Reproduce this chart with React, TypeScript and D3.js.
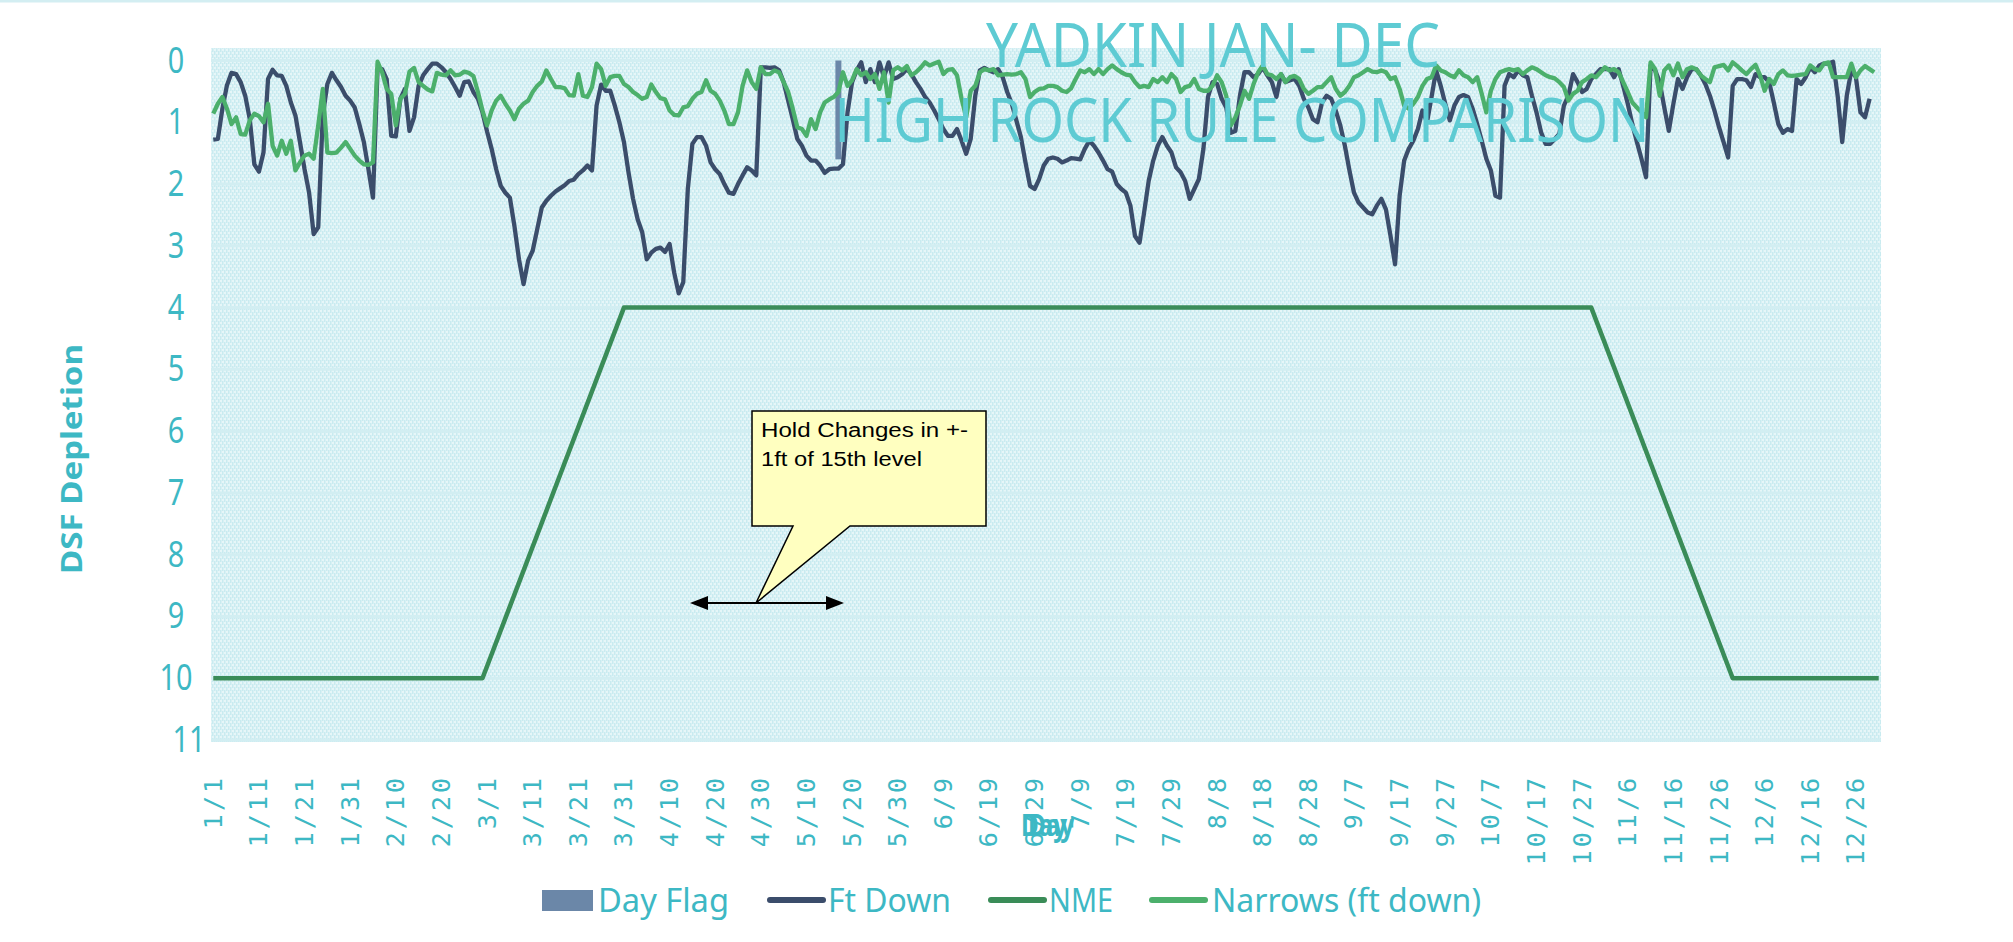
import React from "react";
import * as d3 from "d3";

// one category per day of a leap year
const categories: string[] = d3
  .timeDays(new Date(2024, 0, 1), new Date(2025, 0, 1))
  .map((d) => d3.timeFormat("%-m/%-d")(d));

const tickLabels = [
  "1/1", "1/11", "1/21", "1/31", "2/10", "2/20", "3/1", "3/11", "3/21", "3/31",
  "4/10", "4/20", "4/30", "5/10", "5/20", "5/30", "6/9", "6/19", "6/29", "7/9",
  "7/19", "7/29", "8/8", "8/18", "8/28", "9/7", "9/17", "9/27", "10/7", "10/17",
  "10/27", "11/6", "11/16", "11/26", "12/6", "12/16", "12/26",
];

const yTicks = [0, 1, 2, 3, 4, 5, 6, 7, 8, 9, 10, 11];

// Ft Down, day 0 .. 363
const ftDown = [
  1.28, 1.27, 0.78, 0.40, 0.20, 0.22, 0.35, 0.57, 0.95, 1.68,
  1.80, 1.49, 0.30, 0.15, 0.24, 0.25, 0.41, 0.68, 0.89, 1.32,
  1.76, 2.14, 2.81, 2.70, 0.89, 0.38, 0.20, 0.32, 0.43, 0.57,
  0.65, 0.76, 1.03, 1.32, 1.76, 2.22, 0.14, 0.14, 0.30, 1.22,
  1.23, 0.62, 0.46, 1.14, 0.92, 0.41, 0.24, 0.14, 0.05, 0.05,
  0.11, 0.19, 0.30, 0.43, 0.57, 0.35, 0.34, 0.51, 0.62, 0.84,
  1.15, 1.43, 1.76, 2.03, 2.14, 2.22, 2.68, 3.22, 3.62, 3.24,
  3.08, 2.73, 2.38, 2.27, 2.19, 2.12, 2.07, 2.02, 1.95, 1.93,
  1.84, 1.78, 1.70, 1.78, 0.73, 0.39, 0.49, 0.49, 0.73, 1.00,
  1.32, 1.81, 2.24, 2.57, 2.78, 3.22, 3.11, 3.05, 3.03, 3.10,
  2.97, 3.43, 3.77, 3.59, 2.08, 1.35, 1.24, 1.24, 1.38, 1.65,
  1.76, 1.84, 2.00, 2.14, 2.16, 2.00, 1.86, 1.73, 1.78, 1.86,
  0.11, 0.11, 0.12, 0.11, 0.16, 0.35, 0.65, 0.95, 1.27, 1.38,
  1.54, 1.62, 1.62, 1.70, 1.82, 1.76, 1.75, 1.75, 1.68, 0.84,
  0.35, 0.16, 0.03, 0.35, 0.14, 0.35, 0.03, 0.27, 0.03, 0.30,
  0.27, 0.22, 0.14, 0.22, 0.35, 0.46, 0.59, 0.68, 0.81, 0.95,
  1.11, 1.22, 1.22, 1.11, 1.30, 1.51, 1.27, 0.57, 0.16, 0.12,
  0.16, 0.19, 0.14, 0.27, 0.51, 0.70, 0.97, 1.24, 1.65, 2.03,
  2.08, 1.92, 1.70, 1.59, 1.57, 1.59, 1.65, 1.62, 1.58, 1.59,
  1.60, 1.43, 1.30, 1.38, 1.49, 1.62, 1.76, 1.80, 2.00, 2.08,
  2.14, 2.35, 2.84, 2.95, 2.46, 1.95, 1.62, 1.38, 1.24, 1.38,
  1.49, 1.73, 1.81, 1.95, 2.24, 2.08, 1.92, 1.43, 0.59, 0.35,
  0.38, 0.62, 0.76, 1.17, 1.14, 0.57, 0.19, 0.19, 0.27, 0.22,
  0.11, 0.24, 0.35, 0.59, 0.22, 0.35, 0.32, 0.30, 0.41, 0.62,
  0.76, 0.95, 1.00, 0.68, 0.57, 0.62, 0.81, 1.05, 1.38, 1.78,
  2.14, 2.30, 2.38, 2.46, 2.49, 2.35, 2.24, 2.41, 2.84, 3.30,
  2.19, 1.62, 1.43, 1.30, 1.11, 0.81, 1.00, 0.59, 0.16, 0.41,
  0.70, 0.97, 0.73, 0.59, 0.56, 0.59, 0.78, 1.03, 1.30, 1.59,
  1.78, 2.19, 2.22, 0.41, 0.22, 0.27, 0.16, 0.24, 0.27, 0.57,
  0.84, 1.16, 1.35, 1.35, 1.27, 1.19, 0.73, 0.57, 0.22, 0.35,
  0.51, 0.46, 0.30, 0.22, 0.14, 0.14, 0.14, 0.27, 0.14, 0.41,
  0.70, 1.03, 1.32, 1.59, 1.89, 0.08, 0.16, 0.35, 0.76, 1.14,
  0.70, 0.30, 0.46, 0.27, 0.14, 0.14, 0.24, 0.38, 0.57, 0.81,
  1.08, 1.32, 1.57, 0.41, 0.30, 0.30, 0.32, 0.43, 0.22, 0.27,
  0.27, 0.35, 0.68, 1.03, 1.17, 1.11, 1.14, 0.30, 0.38, 0.27,
  0.11, 0.19, 0.08, 0.05, 0.05, 0.02, 0.57, 1.32, 0.57, 0.16,
  0.27, 0.84, 0.92, 0.62,
];

// Narrows (ft down), day 0 .. 364
const narrows = [
  0.86, 0.70, 0.59, 0.78, 1.03, 0.92, 1.19, 1.20, 0.97, 0.86,
  0.90, 1.00, 0.70, 1.38, 1.54, 1.30, 1.51, 1.30, 1.78, 1.65,
  1.54, 1.51, 1.59, 1.05, 0.46, 1.49, 1.50, 1.49, 1.41, 1.32,
  1.43, 1.54, 1.62, 1.68, 1.69, 1.65, 0.02, 0.19, 0.46, 0.54,
  1.05, 0.62, 0.54, 0.18, 0.12, 0.35, 0.41, 0.47, 0.50, 0.20,
  0.23, 0.24, 0.16, 0.24, 0.23, 0.18, 0.20, 0.25, 0.51, 0.81,
  1.05, 0.81, 0.65, 0.57, 0.70, 0.81, 0.95, 0.78, 0.70, 0.65,
  0.51, 0.41, 0.34, 0.16, 0.30, 0.43, 0.43, 0.45, 0.56, 0.57,
  0.22, 0.57, 0.59, 0.43, 0.05, 0.14, 0.41, 0.27, 0.25, 0.25,
  0.38, 0.43, 0.51, 0.56, 0.62, 0.59, 0.39, 0.51, 0.61, 0.63,
  0.81, 0.88, 0.89, 0.76, 0.74, 0.62, 0.54, 0.51, 0.32, 0.49,
  0.54, 0.65, 0.81, 1.03, 1.03, 0.84, 0.41, 0.16, 0.35, 0.46,
  0.11, 0.22, 0.22, 0.16, 0.19, 0.35, 0.51, 0.78, 1.08, 1.11,
  1.22, 0.95, 1.11, 0.84, 0.68, 0.63, 0.59, 0.51, 0.19, 0.41,
  0.32, 0.14, 0.24, 0.19, 0.30, 0.22, 0.46, 0.19, 0.68, 0.16,
  0.11, 0.16, 0.09, 0.24, 0.19, 0.12, 0.03, 0.08, 0.05, 0.02,
  0.22, 0.15, 0.14, 0.24, 0.62, 0.92, 0.49, 0.41, 0.19, 0.14,
  0.16, 0.14, 0.24, 0.23, 0.22, 0.23, 0.22, 0.19, 0.30, 0.59,
  0.51, 0.46, 0.45, 0.41, 0.41, 0.43, 0.49, 0.51, 0.45, 0.30,
  0.16, 0.19, 0.14, 0.22, 0.14, 0.22, 0.14, 0.08, 0.14, 0.19,
  0.23, 0.24, 0.35, 0.43, 0.41, 0.43, 0.30, 0.35, 0.27, 0.35,
  0.22, 0.30, 0.51, 0.43, 0.41, 0.30, 0.46, 0.49, 0.49, 0.41,
  0.24, 0.35, 0.57, 1.05, 0.92, 0.73, 0.49, 0.62, 0.38, 0.19,
  0.08, 0.22, 0.24, 0.30, 0.22, 0.35, 0.27, 0.25, 0.30, 0.46,
  0.54, 0.49, 0.43, 0.43, 0.35, 0.27, 0.46, 0.57, 0.51, 0.41,
  0.27, 0.24, 0.19, 0.14, 0.18, 0.19, 0.16, 0.19, 0.30, 0.27,
  0.46, 0.73, 0.78, 0.70, 0.59, 0.41, 0.30, 0.27, 0.08, 0.16,
  0.19, 0.24, 0.27, 0.16, 0.24, 0.27, 0.35, 0.27, 0.54, 0.84,
  0.49, 0.30, 0.19, 0.16, 0.14, 0.16, 0.14, 0.22, 0.16, 0.11,
  0.14, 0.19, 0.24, 0.27, 0.29, 0.35, 0.43, 0.65, 0.54, 0.49,
  0.35, 0.30, 0.24, 0.27, 0.19, 0.11, 0.16, 0.14, 0.19, 0.35,
  0.51, 0.68, 0.76, 0.84, 0.92, 0.03, 0.14, 0.57, 0.16, 0.08,
  0.24, 0.05, 0.27, 0.14, 0.11, 0.14, 0.24, 0.30, 0.35, 0.11,
  0.09, 0.07, 0.16, 0.03, 0.09, 0.16, 0.22, 0.14, 0.07, 0.24,
  0.49, 0.30, 0.38, 0.22, 0.16, 0.24, 0.25, 0.24, 0.23, 0.22,
  0.08, 0.14, 0.16, 0.05, 0.03, 0.27, 0.27, 0.27, 0.27, 0.05,
  0.27, 0.16, 0.09, 0.14, 0.19,
];

// NME rule curve: [day index, ft down]
const nme: [number, number][] = [
  [0, 10], [59, 10], [90, 4], [302, 4], [333, 10], [365, 10],
];

// Day Flag column: [day index, value]
const dayFlag: [number, number][] = [[137, 1.6]];

const legendItems = ["Day Flag", "Ft Down", "NME", "Narrows (ft down)"];

const TEAL = "#3db8c4";
const TITLE = "#5ecbd3";
const C_FLAG = "#6b87a8";
const C_FT = "#3b4d6b";
const C_NME = "#3a8c58";
const C_NAR = "#4cb06c";

const W = 2013;
const H = 942;
const left = 211;
const right = 1881;

const App = () => {
  const x = d3
    .scaleBand<number>()
    .domain(d3.range(categories.length))
    .range([left, right]);
  const bw = x.bandwidth();
  const cx = (i: number) => (x(i) as number) + bw / 2;
  const y = d3.scaleLinear().domain([0, 11]).range([60.5, 740]);

  const line = d3
    .line<number>()
    .x((_, i) => cx(i))
    .y((d) => y(d));
  const nmeLine = d3
    .line<[number, number]>()
    .x((d) => cx(d[0]))
    .y((d) => y(d[1]));

  const cond = "'Noto Sans', 'DejaVu Sans', sans-serif";

  return (
    <svg
      width={W}
      height={H}
      style={{ position: "absolute", left: 0, top: 0 }}
    >
      <defs>
        <pattern id="hatch" width="4" height="6" patternUnits="userSpaceOnUse">
          <rect width="4" height="6" fill="#e6f6f8" />
          <rect x="0" y="0" width="1.5" height="4" fill="#c9ebf0" />
          <rect x="2" y="3" width="1.5" height="3" fill="#c9ebf0" />
          <rect x="2" y="0" width="1.5" height="1" fill="#c9ebf0" />
        </pattern>
      </defs>
      <rect width={W} height={H} fill="#fff" />
      <line x1={0} x2={W} y1={1} y2={1} stroke="#d3eef2" strokeWidth={3} />

      {/* plot area */}
      <rect
        x={left}
        y={y(-0.2)}
        width={right - left}
        height={742 - y(-0.2)}
        fill="url(#hatch)"
      />
      {yTicks.map((t) => (
        <line
          key={t}
          x1={left}
          x2={right}
          y1={y(t)}
          y2={y(t)}
          stroke="#d2eef2"
          strokeWidth={3}
        />
      ))}

      {/* y tick labels */}
      {yTicks.map((t) => (
        <g
          key={t}
          transform={`translate(${t === 11 ? 189 : 176},${y(t) + 12}) scale(0.8,1)`}
        >
          <text
            textAnchor="middle"
            fontFamily={cond}
            fontSize={36}
            fill={TEAL}
          >
            {t}
          </text>
        </g>
      ))}

      {/* x tick labels */}
      {tickLabels.map((lab) => {
        const i = categories.indexOf(lab);
        return (
          <text
            key={lab}
            transform={`translate(${cx(i)},775) rotate(-90)`}
            textAnchor="end"
            dominantBaseline="central"
            fontFamily="'DejaVu Sans Mono', monospace"
            fontSize={25}
            letterSpacing={3}
            fill={TEAL}
          >
            {lab}
          </text>
        );
      })}

      {/* series */}
      {dayFlag.map(([d, v]) => (
        <rect
          key={d}
          x={cx(d) - 3}
          y={y(0)}
          width={6}
          height={y(v) - y(0)}
          fill={C_FLAG}
        />
      ))}
      <path
        d={line(ftDown) || ""}
        fill="none"
        stroke={C_FT}
        strokeWidth={4.3}
        strokeLinejoin="round"
      />
      <path
        d={nmeLine(nme) || ""}
        fill="none"
        stroke={C_NME}
        strokeWidth={4.5}
        strokeLinejoin="round"
      />
      <path
        d={line(narrows) || ""}
        fill="none"
        stroke={C_NAR}
        strokeWidth={4.3}
        strokeLinejoin="round"
      />

      {/* title */}
      <text
        x={1213}
        y={67}
        textAnchor="middle"
        fontFamily={cond}
        fontSize={62}
        fill={TITLE}
        textLength={454}
        lengthAdjust="spacingAndGlyphs"
      >
        YADKIN JAN- DEC
      </text>
      <text
        x={1242}
        y={142}
        textAnchor="middle"
        fontFamily={cond}
        fontSize={62}
        fill={TITLE}
        textLength={815}
        lengthAdjust="spacingAndGlyphs"
      >
        HIGH ROCK RULE COMPARISON
      </text>

      {/* axis titles */}
      <text
        transform="translate(82,459) rotate(-90)"
        textAnchor="middle"
        fontFamily={cond}
        fontSize={28}
        fontWeight="bold"
        fill={TEAL}
        textLength={230}
        lengthAdjust="spacingAndGlyphs"
      >
        DSF Depletion
      </text>
      {[1021, 1028].map((px) => (
        <text
          key={px}
          x={px}
          y={836}
          fontFamily={cond}
          fontSize={31}
          fontWeight="bold"
          fill={TEAL}
          textLength={46}
          lengthAdjust="spacingAndGlyphs"
        >
          Day
        </text>
      ))}

      {/* callout */}
      <path
        d="M752,411 H986 V526 H850 L756,603 L793,526 H752 Z"
        fill="#ffffc0"
        stroke="#000"
        strokeWidth={1.5}
      />
      <text
        x={761}
        y={437}
        fontFamily="'Liberation Sans', Arial, sans-serif"
        fontSize={20}
        textLength={207}
        lengthAdjust="spacingAndGlyphs"
      >
        Hold Changes in +-
      </text>
      <text
        x={761}
        y={466}
        fontFamily="'Liberation Sans', Arial, sans-serif"
        fontSize={20}
        textLength={161}
        lengthAdjust="spacingAndGlyphs"
      >
        1ft of 15th level
      </text>
      <line x1={700} x2={834} y1={603} y2={603} stroke="#000" strokeWidth={2} />
      <polygon points="690,603 708,596 708,610" fill="#000" />
      <polygon points="844,603 826,596 826,610" fill="#000" />

      {/* legend */}
      <rect x={542} y={890} width={51} height={21} fill={C_FLAG} />
      <text
        x={598}
        y={912}
        fontFamily={cond}
        fontSize={33}
        fill={TEAL}
        textLength={131}
        lengthAdjust="spacingAndGlyphs"
      >
        {legendItems[0]}
      </text>
      {[
        { x0: 770, color: C_FT, tx: 828, len: 123, label: legendItems[1] },
        { x0: 991, color: C_NME, tx: 1049, len: 64, label: legendItems[2] },
        { x0: 1152, color: C_NAR, tx: 1212, len: 269, label: legendItems[3] },
      ].map((it) => (
        <g key={it.label}>
          <line
            x1={it.x0}
            x2={it.x0 + 53}
            y1={900}
            y2={900}
            stroke={it.color}
            strokeWidth={6}
            strokeLinecap="round"
          />
          <text
            x={it.tx}
            y={912}
            fontFamily={cond}
            fontSize={33}
            fill={TEAL}
            textLength={it.len}
            lengthAdjust="spacingAndGlyphs"
          >
            {it.label}
          </text>
        </g>
      ))}
    </svg>
  );
};

export default App;
